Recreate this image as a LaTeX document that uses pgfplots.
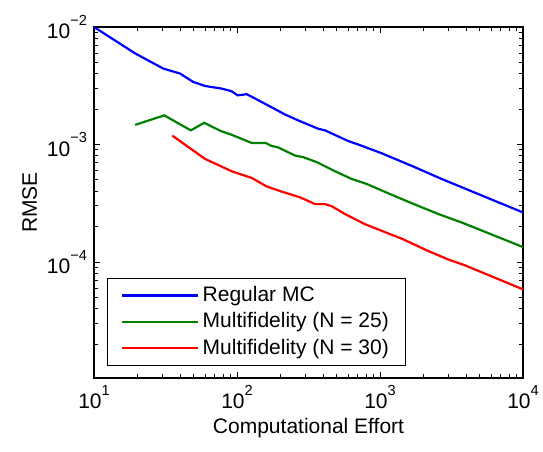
\documentclass[border=0pt]{standalone}
\usepackage{fontspec}
\setmainfont{Liberation Sans}
\usepackage{pgfplots}
\pgfplotsset{compat=1.18}
\definecolor{mblue}{RGB}{0,0,255}
\definecolor{mgreen}{RGB}{0,128,0}
\definecolor{mred}{RGB}{255,0,0}
\newcommand{\sups}[1]{\raisebox{0.62em}{\fontsize{7.3}{8}\selectfont #1}}
\begin{document}
\begin{tikzpicture}
\begin{axis}[
  name=ax,
  scale only axis,
  width=214.5pt, height=175.5pt,
  xmode=log, ymode=log,
  xmin=10, xmax=10000,
  ymin=1.03e-5, ymax=1e-2,
  xtick={10,100,1000,10000},
  xticklabels={10\sups{1},10\sups{2},10\sups{3},10\sups{4}},
  ytick={1e-4,1e-3,1e-2},
  yticklabels={10\sups{−4},10\sups{−3},10\sups{−2}},
  minor xtick={20,30,40,50,60,70,80,90,200,300,400,500,600,700,800,900,2000,3000,4000,5000,6000,7000,8000,9000},
  minor ytick={2e-5,3e-5,4e-5,5e-5,6e-5,7e-5,8e-5,9e-5,2e-4,3e-4,4e-4,5e-4,6e-4,7e-4,8e-4,9e-4,2e-3,3e-3,4e-3,5e-3,6e-3,7e-3,8e-3,9e-3},
  tick align=inside,
  xtick pos=both, ytick pos=both,
  major tick length=3pt, minor tick length=1.8pt,
  every tick/.style={black, line width=0.5pt},
  axis line style={line width=0.75pt},
  font=\fontsize{10.5}{12.6}\selectfont,
  tick label style={font=\fontsize{10.5}{12.6}\selectfont},
  xlabel={Computational Effort},
  ylabel={RMSE},
  xlabel style={yshift=2pt},
  ylabel style={yshift=-2pt},
  legend style={at={(0.03,0.035)}, anchor=south west, draw=black, line width=0.6pt,
    font=\fontsize{10.5}{12.6}\selectfont, row sep=0pt, inner xsep=6.5pt, inner ysep=2pt},
  legend cell align=left,
  legend image code/.code={\draw[#1, line width=1.1pt] (0pt,0pt) -- (38pt,0pt);},
]
\addplot[mblue, line width=1.1pt] coordinates {
(10,0.01) (19.4,5.96e-3) (30.5,4.43e-3) (39.9,4.02e-3) (49.4,3.41e-3) (59.7,3.15e-3)
(78.1,2.99e-3) (91.8,2.84e-3) (101,2.62e-3) (117,2.68e-3) (134,2.46e-3) (217,1.80e-3)
(269,1.60e-3) (371,1.36e-3) (412,1.32e-3) (600,1.07e-3) (705,1.0e-3) (1026,8.43e-4)
(1758,6.40e-4) (2700,5.09e-4) (10000,2.64e-4)};
\addlegendentry{Regular MC}
\addplot[mgreen, line width=1.1pt] coordinates {
(19.4,1.47e-3) (31,1.77e-3) (47.5,1.32e-3) (59,1.53e-3) (77.3,1.30e-3) (91.8,1.21e-3)
(127,1.03e-3) (159,1.03e-3) (175,9.7e-4) (192,9.5e-4) (255,8.05e-4) (291,7.8e-4)
(362,7.07e-4) (485,5.92e-4) (634,5.09e-4) (807,4.62e-4) (1143,3.84e-4) (1622,3.21e-4)
(2560,2.56e-4) (3724,2.17e-4) (10000,1.34e-4)};
\addlegendentry{Multifidelity (N = 25)}
\addplot[mred, line width=1.1pt] coordinates {
(35.3,1.19e-3) (59.7,7.55e-4) (91.8,5.92e-4) (127,5.19e-4) (161,4.40e-4) (206,3.97e-4)
(276,3.55e-4) (352,3.11e-4) (412,3.11e-4) (459,2.99e-4) (569,2.56e-4) (785,2.10e-4)
(1143,1.75e-4) (1419,1.58e-4) (2178,1.24e-4) (3006,1.05e-4) (3929,9.37e-5) (10000,5.85e-5)};
\addlegendentry{Multifidelity (N = 30)}
\end{axis}
\pgfresetboundingbox
\path (ax.south west) ++(-47pt,-36.5pt) coordinate (bl);
\path (ax.north east) ++(10pt,13.5pt) coordinate (tr);
\path (bl) rectangle (tr);
\end{tikzpicture}
\end{document}
